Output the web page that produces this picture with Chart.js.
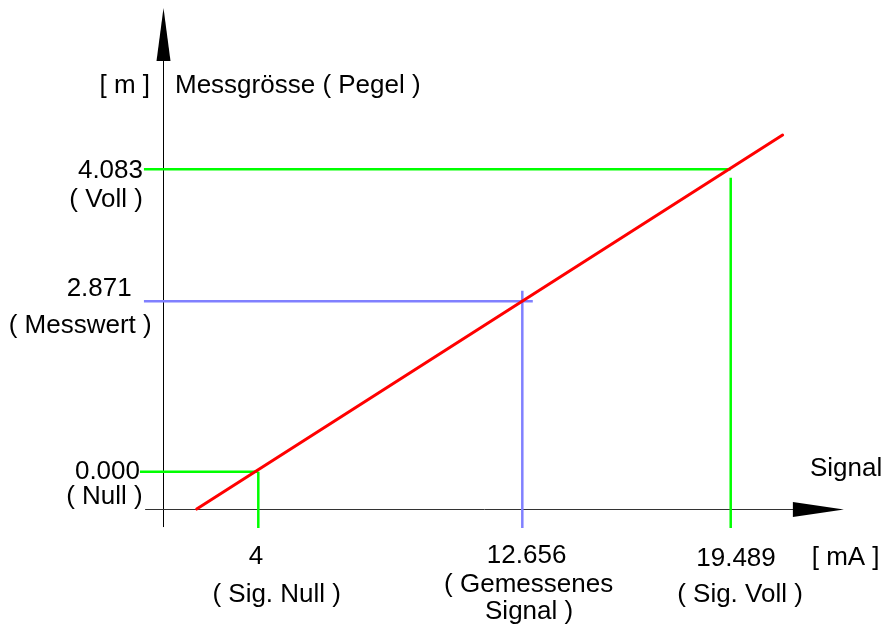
<!DOCTYPE html>
<html><head><meta charset="utf-8">
<script src="https://cdn.jsdelivr.net/npm/chart.js@4.4.0/dist/chart.umd.min.js"></script>
<style>html,body{margin:0;padding:0;background:#fff}#wrap{width:883px;height:628px;position:relative}</style>
</head><body><div id="wrap"><canvas id="c"></canvas></div>
<script>
// Signal axis (mA)
const signalTicks = [4, 12.656, 19.489];
const signalLabels = [["4", "( Sig. Null )"], ["12.656", "( Gemessenes", "Signal )"], ["19.489", "( Sig. Voll )"]];
// Level axis (m) - positions of the marks as drawn
const levelTicks = [0, 2.30, 4.083];
const levelLabels = [["0.000", "( Null )"], ["2.871", "( Messwert )"], ["4.083", "( Voll )"]];
// characteristic line (signal -> level)
const lineSignal = [1.98, 21.19];
const lineLevel = [-0.504, 4.546];
// guide lines
const guideLeft = [0.12, 0.25, 0.25];     // start of horizontal guides (mA)
const guideRight = [4, 13.0, 19.489];     // end of horizontal guides (mA)
const guideTop = [0, 2.444, 3.97];        // top of vertical guides (m)
const guideBottom = -0.76;                // bottom of vertical guides (m)
// axes
const xAxisLevel = -0.504, yAxisSignal = 0.885;
const xAxisRange = [0.289, 23.2], yAxisRange = [-0.747, 6.261];
const axisTitles = {y: ["[ m ]", "Messgrösse ( Pegel )"], x: ["Signal", "[ mA ]"]};

const FONT = '26px "Liberation Sans", Arial, Helvetica, sans-serif';
const guideColors = ['#00ff00', '#8080ff', '#00ff00'];

const datasets = [{
  data: lineSignal.map((x, i) => ({x, y: lineLevel[i]})),
  borderColor: '#ff0000', borderWidth: 3, borderCapStyle: 'round'
}];
levelTicks.forEach((lv, i) => {
  datasets.push({data: [{x: guideLeft[i], y: lv}, {x: guideRight[i], y: lv}], borderColor: guideColors[i], borderWidth: 2.5});
  datasets.push({data: [{x: signalTicks[i], y: guideTop[i]}, {x: signalTicks[i], y: guideBottom}], borderColor: guideColors[i], borderWidth: 2.5});
});
datasets.forEach(d => { d.showLine = true; d.pointRadius = 0; d.fill = false; });

// label placement (style only)
const yLabelStyle = [
  [{dx: -23.3, dy: 7.3, align: 'right'}, {dx: -20.6, dy: 32.3, align: 'right'}],
  [{dx: -31.6, dy: -5, align: 'right'}, {dx: -11.6, dy: 31.3, align: 'right'}],
  [{dx: -20.3, dy: 8.4, align: 'right'}, {dx: -20.3, dy: 37.4, align: 'right'}]
];
const xLabelStyle = [
  [{dx: -2.3, dy: 55}, {dx: 18.4, dy: 92.7}],
  [{dx: 4.3, dy: 54}, {dx: 6.3, dy: 82.7}, {dx: 6.8, dy: 110}],
  [{dx: 5.3, dy: 56.7}, {dx: 9.3, dy: 92.7}]
];

const diagram = {
  id: 'diagram',
  beforeDatasetsDraw(chart) {
    const ctx = chart.ctx, xs = chart.scales.x, ys = chart.scales.y;
    const ax = Math.round(xs.getPixelForValue(yAxisSignal)) + 0.5;
    const ay = Math.round(ys.getPixelForValue(xAxisLevel)) + 0.5;
    ctx.save();
    ctx.strokeStyle = '#000'; ctx.fillStyle = '#000'; ctx.lineWidth = 1;
    // y axis
    const yTop = ys.getPixelForValue(yAxisRange[1]), yBot = ys.getPixelForValue(yAxisRange[0]);
    ctx.beginPath(); ctx.moveTo(ax, yBot); ctx.lineTo(ax, yTop + 20); ctx.stroke();
    ctx.beginPath(); ctx.moveTo(ax, yTop); ctx.lineTo(ax - 7, yTop + 53); ctx.lineTo(ax + 7, yTop + 53); ctx.closePath(); ctx.fill();
    // x axis
    const xL = xs.getPixelForValue(xAxisRange[0]), xR = xs.getPixelForValue(xAxisRange[1]);
    ctx.strokeStyle = '#333';
    ctx.beginPath(); ctx.moveTo(xL, ay); ctx.lineTo(xR - 20, ay); ctx.stroke();
    ctx.beginPath(); ctx.moveTo(xR, ay); ctx.lineTo(xR - 51, ay - 7.5); ctx.lineTo(xR - 51, ay + 7.5); ctx.closePath(); ctx.fill();
    ctx.restore();
  },
  afterDatasetsDraw(chart) {
    const ctx = chart.ctx, xs = chart.scales.x, ys = chart.scales.y;
    const ax = xs.getPixelForValue(yAxisSignal);
    const ay = ys.getPixelForValue(xAxisLevel);
    ctx.save();
    ctx.font = FONT; ctx.fillStyle = '#000'; ctx.textBaseline = 'alphabetic';
    levelTicks.forEach((lv, i) => {
      const py = ys.getPixelForValue(lv);
      levelLabels[i].forEach((t, j) => {
        const s = yLabelStyle[i][j];
        ctx.textAlign = s.align;
        ctx.fillText(t, ax + s.dx, py + s.dy);
      });
    });
    ctx.textAlign = 'center';
    signalTicks.forEach((sv, i) => {
      const px = xs.getPixelForValue(sv);
      signalLabels[i].forEach((t, j) => {
        const s = xLabelStyle[i][j];
        ctx.fillText(t, px + s.dx, ay + s.dy);
      });
    });
    const yTop = ys.getPixelForValue(yAxisRange[1]);
    ctx.textAlign = 'right'; ctx.fillText(axisTitles.y[0], ax - 13.3, yTop + 85);
    ctx.textAlign = 'left'; ctx.fillText(axisTitles.y[1], ax + 11.7, yTop + 85);
    ctx.fillText(axisTitles.x[0], 810, ay - 33);
    ctx.fillText(axisTitles.x[1], 811.7, ay + 56);
    ctx.restore();
  }
};

new Chart(document.getElementById('c'), {
  type: 'scatter',
  data: {datasets},
  options: {
    responsive: true, maintainAspectRatio: false, animation: false,
    layout: {padding: 0},
    plugins: {legend: {display: false}, tooltip: {enabled: false}},
    scales: {
      x: {type: 'linear', min: -4.469, max: 24.482, display: false},
      y: {type: 'linear', min: -2.110, max: 6.369, display: false}
    }
  },
  plugins: [diagram]
});
</script></body></html>
